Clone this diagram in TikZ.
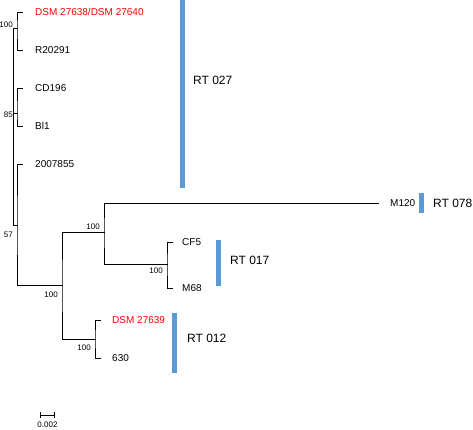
\documentclass[tikz,border=0pt]{standalone}
\usepackage{fontspec}
\setmainfont{Liberation Sans}
\usepackage{tikz}
\usetikzlibrary{calc, arrows.meta}
\definecolor{cladeblue}{HTML}{5B9BD5}
\definecolor{strainred}{HTML}{FF0000}

\begin{document}
\begin{tikzpicture}[x=1pt, y=-1pt,
  branch/.style={line width=1pt, line cap=rect},
  leaf/.style={anchor=west, inner sep=0pt, font=\fontsize{10}{12}\selectfont},
  boot/.style={anchor=east, inner sep=0pt, font=\fontsize{8}{9}\selectfont},
  rtlabel/.style={anchor=west, inner sep=0pt, font=\fontsize{12}{14}\selectfont}]

  \useasboundingbox (0,0) rectangle (473,429);

  % Leaf tips
  \foreach \name/\x/\y in {t1/22/12, t2/22/50, t3/22/88, t4/22/126, t5/22/164,
    t6/378/203, t7/172/242, t8/172/288, t9/100/320, t10/100/358}
    \coordinate (\name) at (\x,\y);

  % Internal nodes
  \foreach \name/\x/\y in {nB/13/126, nA/17/28, nC/17/113, nD/17/225,
    nE/62/285, nF/104/232, nG/167/264, nH/95/339}
    \coordinate (\name) at (\x,\y);

  % Branches
  \draw[branch] (t1) -| (nA) |- (t2);
  \draw[branch] (t3) -| (nC) |- (t4);
  \draw[branch] (t5) -| (nD) |- (nE);
  \draw[branch] (nF) -| (nE) |- (nH);
  \draw[branch] (t6) -| (nF) |- (nG);
  \draw[branch] (t7) -| (nG) |- (t8);
  \draw[branch] (t9) -| (nH) |- (t10);
  \draw[branch] (nA) -- (nA -| nB) -- (nD -| nB) -- (nD);
  \draw[branch] (nC) -- (nC -| nB);

  % Strain names
  \node[leaf, text=strainred] (l1) at ($(t1)+(13,0)$) {DSM 27638/DSM 27640};
  \node[leaf, text=strainred] (l9) at ($(t9)+(12,0)$) {DSM 27639};
  \foreach \name/\tip/\dx/\txt in {l2/t2/13/R20291, l3/t3/13/CD196, l4/t4/13/Bl1,
    l5/t5/13/2007855, l6/t6/12/M120, l7/t7/10/CF5, l8/t8/10/M68, l10/t10/12/630}
    \node[leaf] (\name) at ($(\tip)+(\dx,0)$) {\txt};

  % Bootstrap values
  \foreach \name/\at/\dy/\val in {bA/nA/-3/100, bC/nC/2/85, bD/nD/10/57,
    bE/nE/10/100, bF/nF/-5/100, bG/nG/7/100, bH/nH/9/100}
    \node[boot] (\name) at ($(\at)+(-4,\dy)$) {\val};

  % Ribotypes
  \fill[cladeblue] (179.5,0) rectangle (184.5,188);
  \fill[cladeblue] (418.5,193) rectangle (423.5,213);
  \fill[cladeblue] (215.5,240) rectangle (220.5,286);
  \fill[cladeblue] (171.5,313) rectangle (176.5,373);
  \node[rtlabel] (r027) at (193,80) {RT 027};
  \node[rtlabel] (r078) at (433,203) {RT 078};
  \node[rtlabel] (r017) at (230,260) {RT 017};
  \node[rtlabel] (r012) at (187,338) {RT 012};

  % Scale
  \coordinate (sL) at (40,415);
  \coordinate (sR) at (55,415);
  \draw[branch, line cap=butt, {Bar[width=6pt]}-{Bar[width=6pt]}] (sL) -- (sR);
  \node[font=\fontsize{8}{9}\selectfont, inner sep=0pt] (sc) at ($(sL)!0.5!(sR)+(0,10)$) {0.002};
\end{tikzpicture}
\end{document}
